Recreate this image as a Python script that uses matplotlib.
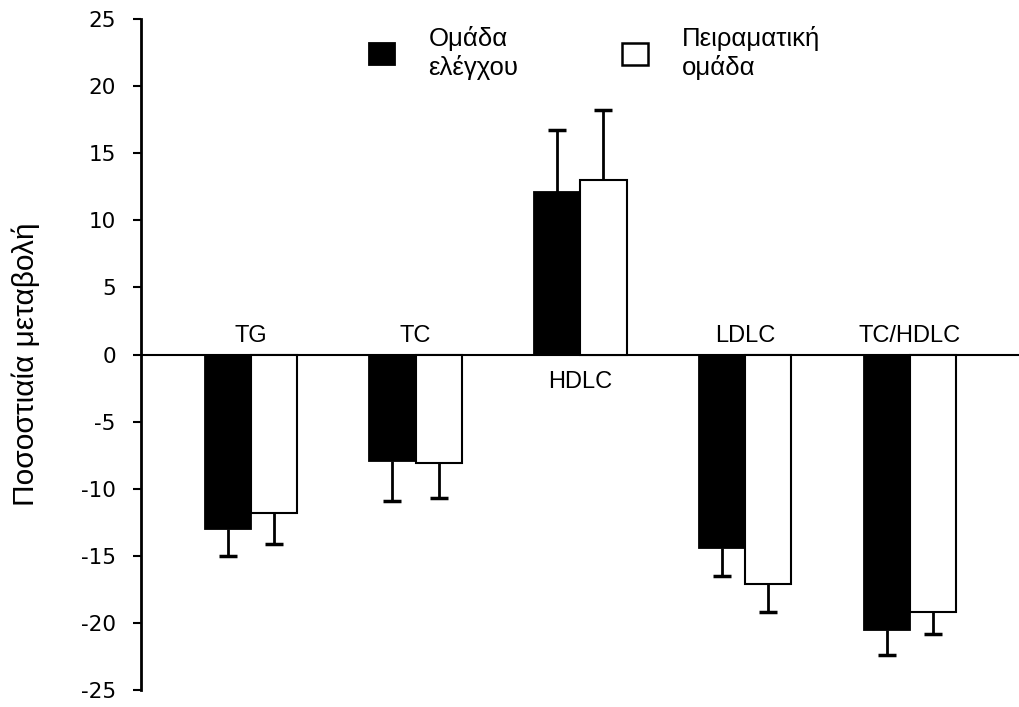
import numpy as np
import matplotlib.pyplot as plt
from matplotlib.patches import Patch

# Percent change per lipid marker
categories = ["TG", "TC", "HDLC", "LDLC", "TC/HDLC"]
control = [-13.0, -7.9, 12.1, -14.4, -20.5]
control_err = [2.0, 3.0, 4.6, 2.1, 1.9]
experimental = [-11.8, -8.1, 13.0, -17.1, -19.2]
experimental_err = [2.3, 2.6, 5.2, 2.1, 1.6]

plt.rcParams["axes.unicode_minus"] = False
label_font = ["Liberation Sans", "DejaVu Sans"]

fig = plt.figure(figsize=(10.2, 7.07), dpi=100)
ax = fig.add_axes([0.138, 0.024, 0.862, 0.949])

x = np.arange(len(categories))
w = 0.28

ax.bar(x - w / 2, control, w, color="black", edgecolor="black", linewidth=1.3, zorder=2)
ax.bar(x + w / 2, experimental, w, color="white", edgecolor="black", linewidth=1.5, zorder=2)


def one_sided_errors(xpos, vals, errs):
    # error bar only on the side away from zero, cap only at the far end
    vals = np.array(vals)
    ends = vals + np.sign(vals) * np.array(errs)
    ax.vlines(xpos, vals, ends, color="black", linewidth=2, zorder=1)
    ax.plot(xpos, ends, linestyle="none", marker="_", markersize=13,
            markeredgewidth=2.5, color="black", zorder=1)


one_sided_errors(x - w / 2, control, control_err)
one_sided_errors(x + w / 2, experimental, experimental_err)

ax.axhline(0, color="black", linewidth=1.5, zorder=0)

# category labels: above the zero line for negative groups, below for positive
for i, (name, val) in enumerate(zip(categories, control)):
    if val < 0:
        ax.text(i, 0.9, name, ha="center", va="baseline", fontsize=17, family=label_font)
    else:
        ax.text(i, -1.2, name, ha="center", va="top", fontsize=17, family=label_font)

ax.set_xlim(-0.667, 4.667)
ax.set_ylim(-25, 25)
ax.set_yticks(np.arange(-25, 26, 5))
ax.tick_params(axis="y", direction="out", length=6, width=1.5, pad=12, labelsize=15.5)
ax.set_xticks([])
for s in ["top", "right", "bottom"]:
    ax.spines[s].set_visible(False)
ax.spines["left"].set_linewidth(2)

ax.set_ylabel("Ποσοστιαία μεταβολή", fontsize=21.5, family=label_font)
ax.yaxis.set_label_coords(-0.115, 0.486)

handles = [Patch(facecolor="black", edgecolor="black", linewidth=1.3),
           Patch(facecolor="white", edgecolor="black", linewidth=1.8)]
ax.legend(handles, ["Ομάδα\nελέγχου", "Πειραματική\nομάδα"], ncol=2, frameon=False,
          loc="upper left", bbox_to_anchor=(0.362, 0.963), bbox_transform=fig.transFigure,
          prop={"family": label_font, "size": 18.5}, handlelength=1.0, handleheight=0.95,
          handletextpad=1.3, columnspacing=4.05, borderpad=0, borderaxespad=0,
          labelspacing=0.3)

fig.savefig("out.png", dpi=100)
